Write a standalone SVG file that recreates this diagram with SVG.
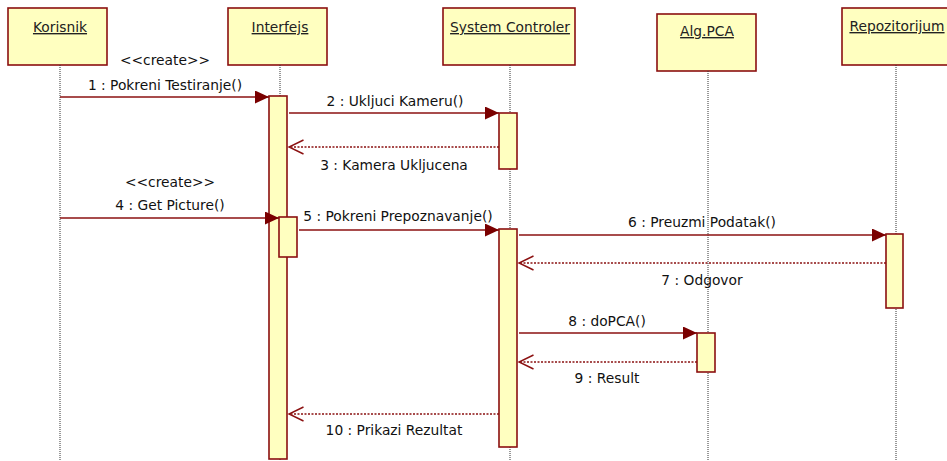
<svg xmlns="http://www.w3.org/2000/svg" width="947" height="461" viewBox="0 0 947 461">
<style>
.box{fill:#FFFFC0;stroke:#8B1010;stroke-width:1.6}
.bar{fill:#FFFFC0;stroke:#8B1010;stroke-width:1.6}
.life{stroke:#333;stroke-width:1;stroke-dasharray:1,1;fill:none}
.title{font-family:"DejaVu Sans",Verdana,sans-serif;font-size:13.8px;fill:#222;text-anchor:middle;text-decoration:underline}
.lbl{font-family:"DejaVu Sans",Verdana,sans-serif;font-size:13.8px;fill:#111;text-anchor:middle}
.call{stroke:#8B1010;stroke-width:1.4;fill:none;marker-end:url(#filled)}
.ret{stroke:#8B1010;stroke-width:1.4;fill:none;stroke-dasharray:2,1.5;marker-end:url(#open)}
</style>
<defs>
<marker id="filled" markerUnits="userSpaceOnUse" markerWidth="14" markerHeight="13" refX="14" refY="6.5" orient="auto">
<path d="M0,0 L14,6.5 L0,13 z" fill="#7A0000"/>
</marker>
<marker id="open" markerUnits="userSpaceOnUse" markerWidth="17" markerHeight="16" refX="15.5" refY="8" orient="auto" overflow="visible">
<path d="M1,1 L15.5,8 L1,15" fill="none" stroke="#8B1010" stroke-width="1.4"/>
</marker>
</defs>
<rect width="947" height="461" fill="#fff"/>

<g id="korisnik">
<rect class="box" x="8" y="8" width="99" height="57"/>
<text class="title" x="60" y="32">Korisnik</text>
<line class="life" x1="60" y1="65" x2="60" y2="461"/>
</g>

<g id="interfejs">
<rect class="box" x="228" y="8" width="99" height="57"/>
<text class="title" x="280" y="32">Interfejs</text>
<line class="life" x1="280" y1="65" x2="280" y2="461"/>
<rect class="bar" x="269" y="96" width="18" height="363"/>
<rect class="bar" x="279" y="217" width="18" height="40"/>
</g>

<g id="systemControler">
<rect class="box" x="443" y="8" width="132" height="57"/>
<text class="title" x="510" y="32">System Controler</text>
<line class="life" x1="510" y1="65" x2="510" y2="461"/>
<rect class="bar" x="499" y="113" width="18" height="56"/>
<rect class="bar" x="499" y="229" width="18" height="218"/>
</g>

<g id="algPCA">
<rect class="box" x="657" y="14" width="99" height="57"/>
<text class="title" x="707" y="36">Alg.PCA</text>
<line class="life" x1="708" y1="71" x2="708" y2="461"/>
<rect class="bar" x="697" y="333" width="18" height="39"/>
</g>

<g id="repozitorijum">
<rect class="box" x="842" y="8" width="115" height="57"/>
<text class="title" x="897" y="31">Repozitorijum</text>
<line class="life" x1="896" y1="65" x2="896" y2="461"/>
<rect class="bar" x="886" y="234" width="17" height="74"/>
</g>

<g id="connectors">
<line class="call" x1="60" y1="97" x2="269" y2="97"/>
<line class="call" x1="289" y1="113" x2="499" y2="113"/>
<line class="ret" x1="499" y1="147" x2="289" y2="147"/>
<line class="call" x1="60" y1="218" x2="279" y2="218"/>
<line class="call" x1="299" y1="230" x2="499" y2="230"/>
<line class="call" x1="519" y1="235" x2="886" y2="235"/>
<line class="ret" x1="886" y1="263" x2="519" y2="263"/>
<line class="call" x1="519" y1="333" x2="697" y2="333"/>
<line class="ret" x1="697" y1="362" x2="519" y2="362"/>
<line class="ret" x1="499" y1="414" x2="289" y2="414"/>
</g>

<g id="labels">
<text class="lbl" x="165" y="65">&lt;&lt;create&gt;&gt;</text>
<text class="lbl" x="165" y="90">1 : Pokreni Testiranje()</text>
<text class="lbl" x="395" y="106">2 : Ukljuci Kameru()</text>
<text class="lbl" x="394" y="170">3 : Kamera Ukljucena</text>
<text class="lbl" x="170" y="187">&lt;&lt;create&gt;&gt;</text>
<text class="lbl" x="170" y="210">4 : Get Picture()</text>
<text class="lbl" x="398" y="221">5 : Pokreni Prepoznavanje()</text>
<text class="lbl" x="702" y="227">6 : Preuzmi Podatak()</text>
<text class="lbl" x="702" y="285">7 : Odgovor</text>
<text class="lbl" x="607" y="326">8 : doPCA()</text>
<text class="lbl" x="607" y="383">9 : Result</text>
<text class="lbl" x="394" y="435">10 : Prikazi Rezultat</text>
</g>
</svg>
